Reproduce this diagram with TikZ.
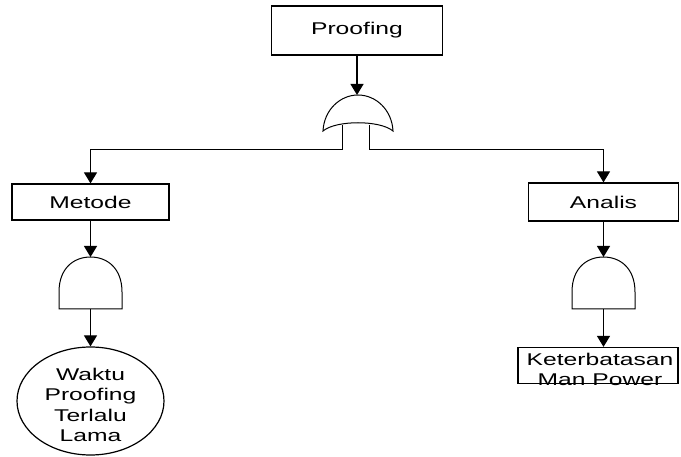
\documentclass[tikz,border=0pt]{standalone}
\usepackage{fontspec}
\setmainfont{Liberation Sans}
\usepackage{graphicx}
\usetikzlibrary{arrows.meta,shapes.geometric}

\newcommand{\wtxt}[1]{\scalebox{1.45}[1]{#1}}
\tikzset{
  event/.style={draw, line width=1.2pt, inner sep=0pt},
  flow/.style={line width=1.2pt, -{Triangle[width=13pt,length=11pt]}},
  gateline/.style={draw, line width=1pt}
}

\begin{document}
\begin{tikzpicture}[x=1pt, y=-1pt, font=\fontsize{17}{20.5}\selectfont]
    \useasboundingbox (0,0) rectangle (681,457);
    % events
    \node [event, minimum width=171pt, minimum height=49pt] (proofing) at (357,30.5) {\wtxt{Proofing}};
    \node [event, minimum width=157pt, minimum height=36pt] (metode) at (90.5,202) {\wtxt{Metode}};
    \node [event, minimum width=150pt, minimum height=38pt] (analis) at (603.5,202) {\wtxt{Analis}};
    \node [event, ellipse, minimum width=147pt, minimum height=108pt] (waktu) at (90.5,401) {};
    \node [align=center, font=\fontsize{17}{20.5}\selectfont] (waktutxt) at (90.5,405) {\wtxt{Waktu}\\\wtxt{Proofing}\\\wtxt{Terlalu}\\\wtxt{Lama}};
    \node [event, minimum width=160pt, minimum height=36pt] (keter) at (598,365.5) {};
    \node [align=center, font=\fontsize{17}{20}\selectfont] (retext) at (600,369) {\wtxt{Keterbatasan}\\\wtxt{Man Power}};
    % OR gate
    \draw [gateline] (323,131) .. controls (324,110) and (340,95) .. (358,95) .. controls (376,95) and (392,110) .. (393,131) .. controls (380,120) and (336,120) .. cycle;
    \coordinate (ortop) at (357,95);
    \coordinate (orlegl) at (342,125);
    \coordinate (orlegr) at (369,125);
    \coordinate (splitl) at (342,150);
    \coordinate (splitr) at (369,150);
    % AND gates
    \draw [gateline] (59,309) -- (59,292) .. controls (59,268) and (74,257) .. (90.5,257) .. controls (107,257) and (122,268) .. (122,292) -- (122,309) -- cycle;
    \draw [gateline] (572,309) -- (572,292) .. controls (572,268) and (587,257) .. (603.5,257) .. controls (620,257) and (635,268) .. (635,292) -- (635,309) -- cycle;
    \coordinate (andltop) at (90.5,257);
    \coordinate (andlbot) at (90.5,309);
    \coordinate (andrtop) at (603.5,257);
    \coordinate (andrbot) at (603.5,309);
    % connectors
    \draw [flow] (proofing) -- (ortop);
    \draw [flow, line width=1pt] (orlegl) -- (splitl) -| (metode);
    \draw [flow, line width=1pt] (orlegr) -- (splitr) -| (analis);
    \draw [flow] (metode) -- (andltop);
    \draw [flow] (andlbot) -- (waktu);
    \draw [flow] (analis) -- (andrtop);
    \draw [flow] (andrbot) -- (andrbot |- keter.north);
\end{tikzpicture}
\end{document}
